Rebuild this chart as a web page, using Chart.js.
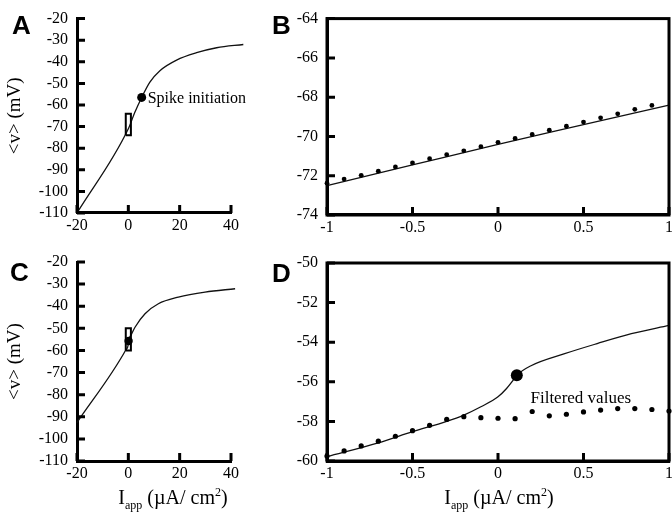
<!DOCTYPE html>
<html>
<head>
<meta charset="utf-8">
<script src="https://cdn.jsdelivr.net/npm/chart.js@4"></script>
<style>
body{margin:0;background:#fff;}
#wrap{position:relative;width:672px;height:520px;overflow:hidden;}
canvas{position:absolute;left:0;top:0;}
.lab{position:absolute;font:bold 26px "Liberation Sans",Arial,sans-serif;line-height:26px;color:#000;}
.xt{position:absolute;width:200px;text-align:center;font:20px "Liberation Serif",serif;line-height:20px;color:#000;}
.xt sub{font-size:12px;vertical-align:-5px;line-height:0;}
.xt sup{font-size:12px;vertical-align:8px;line-height:0;}
</style>
</head>
<body>
<div id="wrap">
  <canvas id="cA" width="700" height="520"></canvas>
  <canvas id="cB" width="700" height="520"></canvas>
  <canvas id="cC" width="700" height="520"></canvas>
  <canvas id="cD" width="700" height="520"></canvas>
  <div class="lab" style="left:12px;top:12px">A</div>
  <div class="lab" style="left:272px;top:12px">B</div>
  <div class="lab" style="left:10px;top:259px">C</div>
  <div class="lab" style="left:272px;top:260px">D</div>
  <div class="xt" style="left:73px;top:487px">I<sub>app</sub> (µA/ cm<sup>2</sup>)</div>
  <div class="xt" style="left:399px;top:487px">I<sub>app</sub> (µA/ cm<sup>2</sup>)</div>
</div>
<script>
// tick values
const wideXTicks = [-20, 0, 20, 40];
const wideYTicks = [-20, -30, -40, -50, -60, -70, -80, -90, -100, -110];
const zoomXTicks = [-1, -0.5, 0, 0.5, 1];
const bYTicks = [-64, -66, -68, -70, -72, -74];
const dYTicks = [-50, -52, -54, -56, -58, -60];

// A: mean voltage vs applied current
const aI = [-20, 0, 2.5, 5.2, 8.4, 12.3, 18.8, 26.6, 34.4, 44.8];
const aV = [-110, -71, -63.5, -56.5, -49.4, -44.1, -39.2, -35.8, -33.5, -32];
const aSpike = [5.2, -56.5];

// B: zoom of A near 0
const bI = [-1, -0.5, 0, 0.5, 1];
const bV = [-72.5, -71.45, -70.4, -69.4, -68.4];
const bDotI = [-1, -0.9, -0.8, -0.7, -0.6, -0.5, -0.4, -0.3, -0.2, -0.1, 0, 0.1, 0.2, 0.3, 0.4, 0.5, 0.6, 0.7, 0.8, 0.9];
const bDotV = [-72.38, -72.17, -71.98, -71.77, -71.55, -71.35, -71.13, -70.93, -70.73, -70.52, -70.3, -70.1, -69.9, -69.68, -69.48, -69.27, -69.05, -68.85, -68.62, -68.42];

// C
const cI = [-20, -1, 0, 0.1, 1, 2.6, 6.5, 11.7, 19.5, 29.9, 41.6];
const cV = [-92.6, -59.8, -57.1, -55.7, -53.2, -49.5, -43.4, -38.9, -35.9, -33.6, -32.1];
const cSpike = [0.1, -55.7];

// D: zoom of C near 0
const dI = [-1, -0.7, -0.5, -0.3, -0.2, -0.1, 0, 0.05, 0.09, 0.11, 0.19, 0.39, 0.58, 0.78, 1];
const dV = [-59.78, -59.08, -58.52, -58.0, -57.68, -57.26, -56.76, -56.34, -55.9, -55.67, -55.2, -54.58, -54.07, -53.57, -53.15];
const dDotI = [-1, -0.9, -0.8, -0.7, -0.6, -0.5, -0.4, -0.3, -0.2, -0.1, 0, 0.1, 0.2, 0.3, 0.4, 0.5, 0.6, 0.7, 0.8, 0.9, 1];
const dDotV = [-59.75, -59.49, -59.24, -59.0, -58.75, -58.47, -58.2, -57.9, -57.76, -57.81, -57.84, -57.86, -57.5, -57.72, -57.64, -57.52, -57.43, -57.35, -57.35, -57.4, -57.48];
const dSpike = [0.11, -55.67];

const W = 700, H = 520;
const serif = '"Liberation Serif", "Times New Roman", serif';
const pts = (xs, ys) => xs.map((x, i) => ({x: x, y: ys[i]}));
// rectangle marking the zoomed range
const boxPts = (xt, yt) => {
    const x0 = Math.min(...xt), x1 = Math.max(...xt), y0 = Math.min(...yt), y1 = Math.max(...yt);
    return [{x: x0, y: y0}, {x: x1, y: y0}, {x: x1, y: y1}, {x: x0, y: y1}, {x: x0, y: y0}];
};

// inward tick marks, full frame, text notes
const decor = {
    id: 'decor',
    afterDraw(chart, args, opts) {
        const ctx = chart.ctx, a = chart.chartArea;
        const sx = chart.scales.x, sy = chart.scales.y;
        ctx.save();
        ctx.strokeStyle = '#000';
        ctx.lineWidth = 3;
        if (opts.box) {
            ctx.strokeRect(a.left, a.top, a.right - a.left, a.bottom - a.top);
        }
        ctx.beginPath();
        sx.ticks.forEach(t => {
            const p = sx.getPixelForValue(t.value);
            ctx.moveTo(p, a.bottom);
            ctx.lineTo(p, a.bottom - 8);
        });
        sy.ticks.forEach(t => {
            const p = sy.getPixelForValue(t.value);
            ctx.moveTo(a.left, p);
            ctx.lineTo(a.left + 8, p);
        });
        ctx.stroke();
        (opts.notes || []).forEach(n => {
            ctx.fillStyle = '#000';
            ctx.font = n.size + 'px ' + serif;
            ctx.textAlign = 'left';
            ctx.textBaseline = 'middle';
            ctx.fillText(n.text, sx.getPixelForValue(n.x) + n.dx, sy.getPixelForValue(n.y) + n.dy);
        });
        ctx.restore();
    }
};

function makePanel(id, area, xr, yr, xTicks, yTicks, datasets, opts) {
    const yw = area.l - (opts.padL || 0), xh = 35;
    const tickOpts = (pad) => ({color: '#000', padding: pad, autoSkip: false, maxRotation: 0, font: {family: serif, size: 16}, callback: v => String(v)});
    return new Chart(document.getElementById(id), {
        type: 'line',
        data: {datasets: datasets},
        options: {
            responsive: false,
            animation: false,
            events: [],
            layout: {padding: {left: opts.padL || 0, top: area.t, right: W - area.r, bottom: H - area.b - xh}},
            plugins: {legend: {display: false}, tooltip: {enabled: false}, decor: {box: opts.box, notes: opts.notes}},
            scales: {
                x: {
                    type: 'linear', min: xr[0], max: xr[1],
                    afterBuildTicks: s => { s.ticks = xTicks.map(v => ({value: v})); },
                    afterFit: s => { s.height = xh; },
                    grid: {display: false, drawTicks: false},
                    border: {display: true, width: 3, color: '#000'},
                    ticks: tickOpts(3)
                },
                y: {
                    type: 'linear', min: yr[0], max: yr[1],
                    afterBuildTicks: s => { s.ticks = yTicks.map(v => ({value: v})); },
                    afterFit: s => { s.width = yw; },
                    grid: {display: false, drawTicks: false},
                    border: {display: true, width: 3, color: '#000'},
                    ticks: tickOpts(9),
                    title: {display: !!opts.yTitle, text: opts.yTitle, color: '#000', padding: {top: 4, bottom: 0}, font: {family: serif, size: 19}}
                }
            }
        },
        plugins: [decor]
    });
}

const curve = (data) => ({data: data, borderColor: '#111', borderWidth: 1.3, pointRadius: 0, cubicInterpolationMode: 'monotone', clip: false});
const marker = (p, r) => ({data: [{x: p[0], y: p[1]}], showLine: false, pointRadius: r, pointBackgroundColor: '#000', pointBorderWidth: 0, clip: false});
const dots = (data, r) => ({data: data, showLine: false, pointRadius: r, pointBackgroundColor: '#000', pointBorderWidth: 0, clip: false});
const box = (data) => ({data: data, borderColor: '#000', borderWidth: 2, pointRadius: 0, tension: 0, clip: false});

makePanel('cA', {l: 77, t: 15, r: 231, b: 213}, [-20, 40], [-110, -20], wideXTicks, wideYTicks,
    [marker(aSpike, 4.5), box(boxPts(zoomXTicks, bYTicks)), curve(pts(aI, aV))],
    {yTitle: '<v> (mV)', notes: [{text: 'Spike initiation', x: aSpike[0], y: aSpike[1], dx: 6, dy: 1, size: 16}]});

makePanel('cB', {l: 327, t: 15, r: 669, b: 215}, [-1, 1], [-74, -64], zoomXTicks, bYTicks,
    [dots(pts(bDotI, bDotV), 2.4), curve(pts(bI, bV))],
    {box: true, padL: 267});

makePanel('cC', {l: 77, t: 262, r: 231, b: 461}, [-20, 40], [-110, -20], wideXTicks, wideYTicks,
    [marker(cSpike, 4.2), box(boxPts(zoomXTicks, dYTicks)), curve(pts(cI, cV))],
    {yTitle: '<v> (mV)'});

makePanel('cD', {l: 327, t: 263, r: 669, b: 461}, [-1, 1], [-60, -50], zoomXTicks, dYTicks,
    [marker(dSpike, 6), dots(pts(dDotI, dDotV), 2.6), curve(pts(dI, dV))],
    {box: true, padL: 267, notes: [{text: 'Filtered values', x: 0.19, y: -56.85, dx: 0, dy: 0, size: 17}]});
</script>
</body>
</html>
